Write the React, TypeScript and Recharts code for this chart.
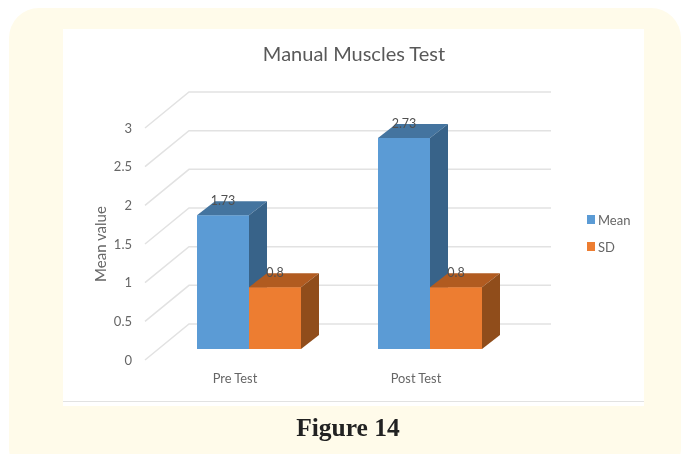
import React from 'react';
import { BarChart, Bar, XAxis, YAxis, CartesianGrid, LabelList, Legend } from 'recharts';

const categories = ['Pre Test', 'Post Test'];
const meanValues = [1.73, 2.73];
const sdValues = [0.8, 0.8];
const yTicks = [0, 0.5, 1, 1.5, 2, 2.5, 3];
const chartData = categories.map((name, i) => ({ name, Mean: meanValues[i], SD: sdValues[i] }));

const FONT = 'Lato, sans-serif';
const DEPTH_X = 18;
const DEPTH_Y = 14;

const makeBox = (front: string, top: string, side: string) => (props: any) => {
  const { x, y, width, height } = props;
  const r = x + width;
  const b = y + height;
  return (
    <g>
      <rect x={x} y={y} width={width} height={height} fill={front} />
      <polygon points={`${x},${y} ${x + DEPTH_X},${y - DEPTH_Y} ${r + DEPTH_X},${y - DEPTH_Y} ${r},${y}`} fill={top} />
      <polygon points={`${r},${y} ${r + DEPTH_X},${y - DEPTH_Y} ${r + DEPTH_X},${b - DEPTH_Y} ${r},${b}`} fill={side} />
    </g>
  );
};

const gridLine = (props: any) => {
  const { x1, x2, y1, key } = props;
  return (
    <polyline
      key={key}
      points={`${x1 - 13},${y1 + 11} ${x1 + 31},${y1 - 25} ${x2 + 31},${y1 - 25}`}
      fill="none"
      stroke="#E2E2E2"
      strokeWidth={1.5}
    />
  );
};

const YTick = (props: any) => (
  <text x={props.x - 18} y={props.y + 11} dy="0.35em" textAnchor="end" fontSize={13} fontFamily={FONT} fill="#666666">
    {props.payload.value}
  </text>
);

const XTick = (props: any) => (
  <text x={props.x - 13.5} y={379} dy="0.35em" textAnchor="middle" fontSize={12.8} fontFamily={FONT} fill="#666666">
    {props.payload.value}
  </text>
);

const LegendContent = (props: any) => (
  <div style={{ fontFamily: FONT, fontSize: 13, color: '#666666' }}>
    {(props.payload || []).map((item: any) => (
      <div key={item.value} style={{ display: 'flex', alignItems: 'center', height: 27 }}>
        <span style={{ width: 8, height: 9, background: item.color, marginRight: 3 }} />
        {item.value}
      </div>
    ))}
  </div>
);

export default function App() {
  return (
    <div style={{ position: 'absolute', left: 0, top: 0, width: 682, height: 454, overflow: 'hidden', background: '#fff', filter: 'blur(0.4px)' }}>
      <div style={{ position: 'absolute', left: 9, top: 8, width: 672, height: 470, background: '#FFFBEA', borderRadius: 30 }} />
      <div style={{ position: 'absolute', left: 63, top: 29, width: 581, height: 377, background: '#fff' }} />
      <div style={{ position: 'absolute', left: 63, top: 400.5, width: 581, height: 1.5, background: '#E2E2E2' }} />
      <div style={{ position: 'absolute', left: 63, width: 581, top: 40, textAlign: 'center', paddingLeft: 1, boxSizing: 'border-box', fontFamily: FONT, fontSize: 20, lineHeight: '26px', color: '#595959' }}>
        Manual Muscles Test
      </div>
      <div style={{ position: 'absolute', left: 63, width: 570, top: 414, textAlign: 'center', fontFamily: '"Liberation Serif", serif', fontWeight: 700, fontSize: 25.5, lineHeight: '28px', color: '#222222' }}>
        Figure 14
      </div>
      <div style={{ position: 'absolute', left: 0, top: 0 }}>
        <BarChart
          width={682}
          height={454}
          data={chartData}
          margin={{ left: 98, right: 92, top: 117, bottom: 65 }}
          barSize={52}
          barGap={0}
        >
          <CartesianGrid vertical={false} horizontal={gridLine} />
          <XAxis dataKey="name" axisLine={false} tickLine={false} height={40} tick={XTick} interval={0} />
          <YAxis
            domain={[0, 3]}
            ticks={yTicks}
            width={60}
            axisLine={false}
            tickLine={false}
            tick={YTick}
            label={{ value: 'Mean value', angle: -90, position: 'center', dx: -27, dy: 11, fontSize: 15, fontFamily: FONT, fill: '#666666' }}
          />
          <Legend
            layout="vertical"
            align="right"
            verticalAlign="middle"
            content={LegendContent}
            wrapperStyle={{ left: 587, top: 206, width: 70, right: 'auto', bottom: 'auto' }}
          />
          <Bar dataKey="Mean" fill="#5B9BD5" isAnimationActive={false} shape={makeBox('#5B9BD5', '#44749F', '#386389')}>
            <LabelList dataKey="Mean" position="top" offset={10} fontSize={12.5} fontFamily={FONT} fill="#505050" />
          </Bar>
          <Bar dataKey="SD" fill="#ED7D31" isAnimationActive={false} shape={makeBox('#ED7D31', '#B15B20', '#904D1B')}>
            <LabelList dataKey="SD" position="top" offset={10} fontSize={12.5} fontFamily={FONT} fill="#505050" />
          </Bar>
        </BarChart>
      </div>
    </div>
  );
}
